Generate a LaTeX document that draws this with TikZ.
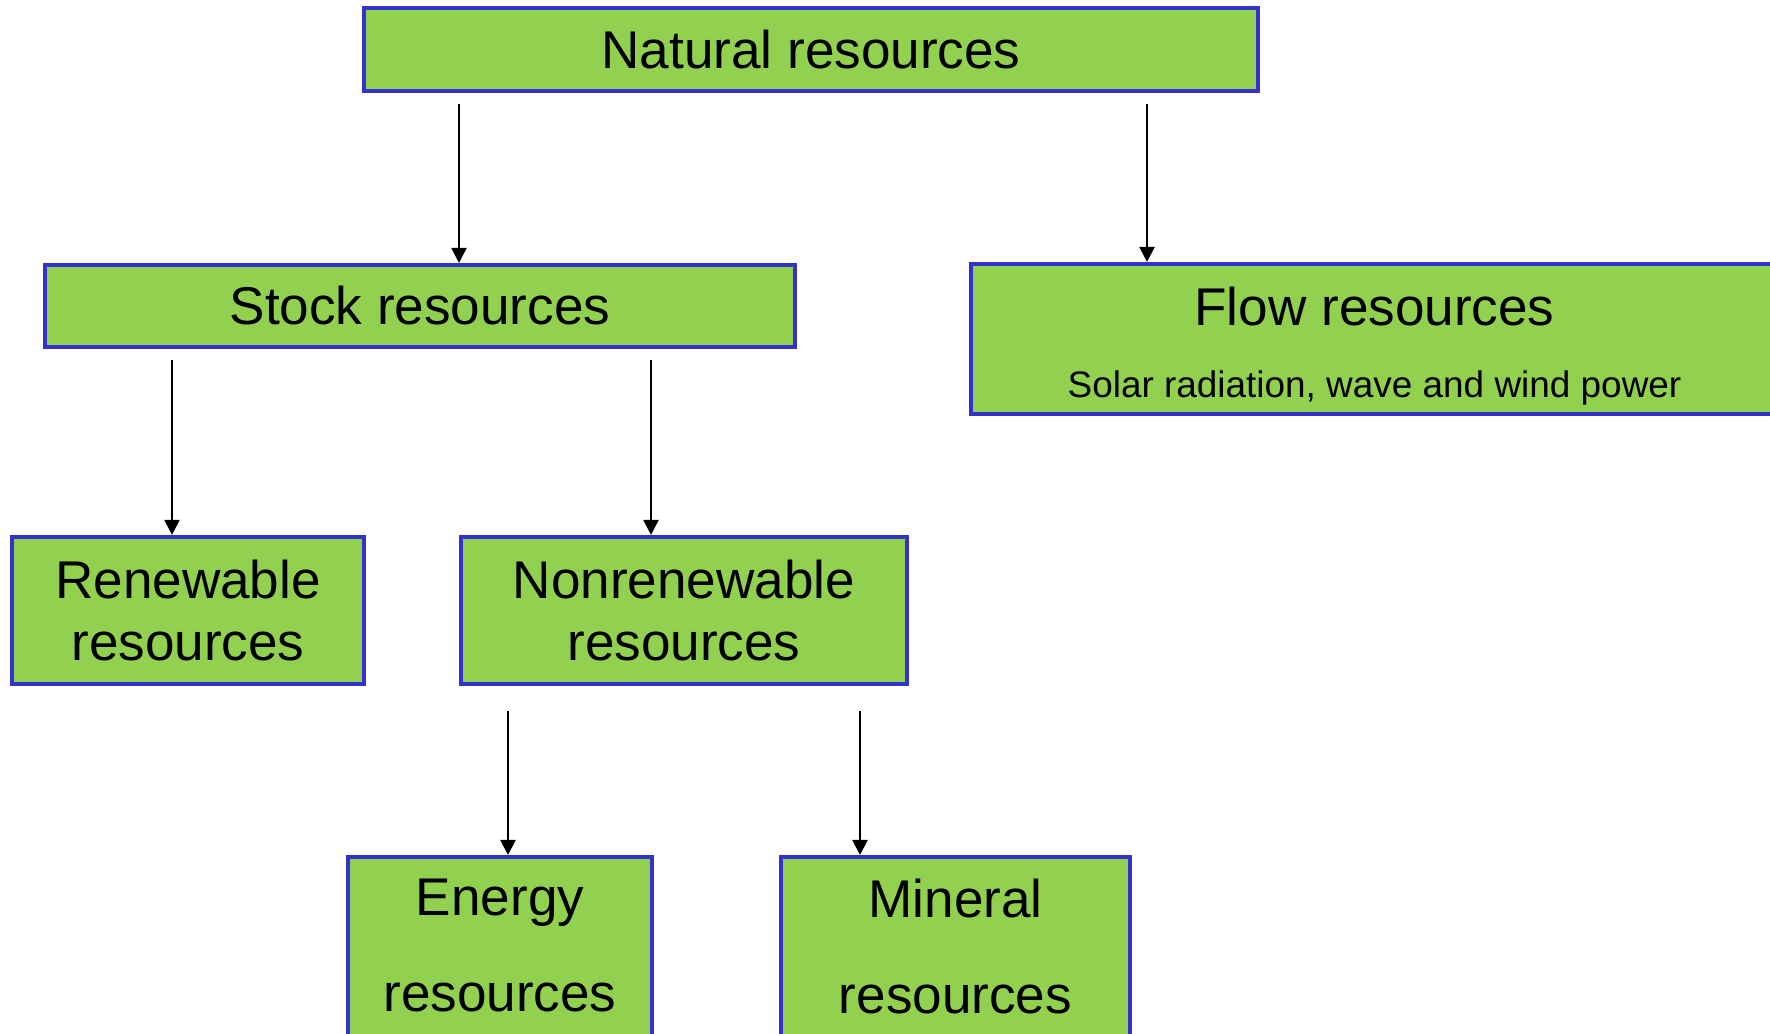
\documentclass[tikz,border=0pt]{standalone}
\usepackage{fontspec}
\setmainfont{Liberation Sans}
\usepackage{xcolor}
\usepackage{tikz}
\usetikzlibrary{arrows.meta,positioning}
\definecolor{resgreen}{HTML}{92D050}
\definecolor{resblue}{HTML}{3333CC}

\begin{document}
\begin{tikzpicture}[x=0.01cm,y=-0.01cm,>={Triangle[length=4.3pt,width=4.3pt]}]

\tikzset{
box/.style={
    draw=resblue,
    line width=1.15pt,
    fill=resgreen,
    align=center,
    inner sep=0pt,
    font=\fontsize{15.1pt}{17.9pt}\selectfont
},
boxtext/.style={
    anchor=base,
    inner sep=0pt,
    font=\fontsize{15.1pt}{17.9pt}\selectfont
},
subtext/.style={
    anchor=base,
    inner sep=0pt,
    font=\fontsize{10.5pt}{12.5pt}\selectfont
},
arrow/.style={->,line width=0.6pt,color=black}
}

\useasboundingbox (0,0) rectangle (1770,1034);
\clip (0,0) rectangle (1770,1034);

\node[box,minimum width=8.94cm,minimum height=0.83cm] (natural) at (811,49.5) {Natural resources};
\node[box,minimum width=7.50cm,minimum height=0.82cm] (stock) at (420,306) {Stock resources};
\node[box,minimum width=8.09cm,minimum height=1.50cm] (flow) at (1375.5,339) {};
\node[boxtext] (flowtitle) at (1374.5,326) {Flow resources};
\node[subtext] (flowsub) at (1374.5,397.5) {Solar radiation, wave and wind power};

\node[box,minimum width=3.52cm,minimum height=1.47cm] (renewable) at (188,610.5) {Renewable\\resources};
\node[box,minimum width=4.46cm,minimum height=1.47cm] (nonrenewable) at (684,610.5) {Nonrenewable\\resources};

\node[box,anchor=north,minimum width=3.04cm,inner ysep=0.22cm,text depth=0.5cm] (energy) at (500,855) {Energy\\[9.4pt]resources};
\node[box,anchor=north,minimum width=3.49cm,inner ysep=0.22cm,text depth=0.5cm] (mineral) at (955.5,855) {Mineral\\[9.4pt]resources};

\coordinate (natleft) at (459,104);
\coordinate (natright) at (1147,104);
\coordinate (stockleft) at (172,360);
\coordinate (stockright) at (651,360);
\coordinate (nonleft) at (508,711);
\coordinate (nonright) at (860,711);

\draw[arrow] (natleft) -- (natleft |- stock.north);
\draw[arrow] (natright) -- (natright |- flow.north);
\draw[arrow] (stockleft) -- (stockleft |- renewable.north);
\draw[arrow] (stockright) -- (stockright |- nonrenewable.north);
\draw[arrow] (nonleft) -- (nonleft |- energy.north);
\draw[arrow] (nonright) -- (nonright |- mineral.north);

\end{tikzpicture}
\end{document}
